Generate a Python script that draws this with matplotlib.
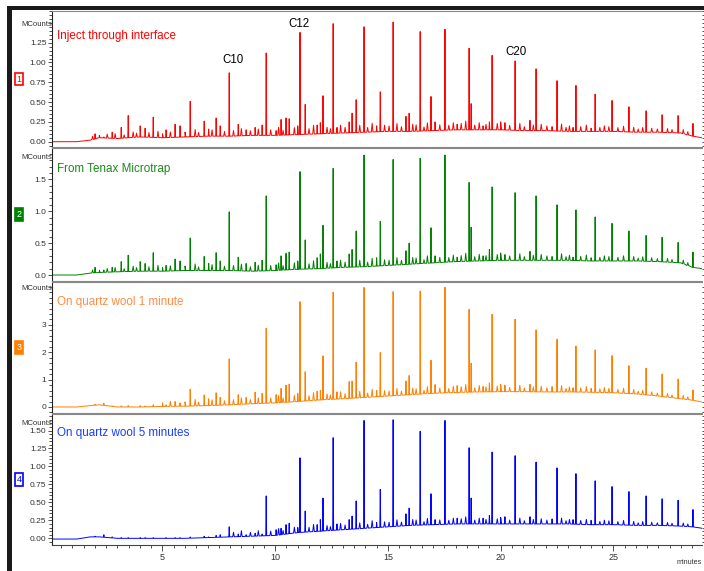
import numpy as np
import matplotlib
matplotlib.use('Agg')
from matplotlib import pyplot as plt
from matplotlib.patches import Rectangle
from matplotlib.ticker import MultipleLocator, FixedLocator, FormatStrFormatter

plt.rcParams['font.family'] = ['Liberation Sans', 'DejaVu Sans']

# retention times (minutes) of the n-alkanes C10 .. C30
alkane_rt = [7.96, 9.60, 11.10, 12.57, 13.94, 15.23, 16.43, 17.53, 18.60, 19.62, 20.64,
             21.57, 22.50, 23.34, 24.19, 24.94, 25.69, 26.45, 27.16, 27.87, 28.53]
# other (minor) peaks
minor_rt = [2.01, 2.40, 2.77, 3.17, 3.48, 4.01, 4.23, 4.59, 5.16, 5.56, 5.78, 6.23,
            6.85, 7.05, 7.38, 7.56, 8.36, 8.71, 9.11, 9.42, 10.04, 10.26, 10.48, 10.62,
            11.00, 11.33, 11.86, 12.00, 12.12, 12.74, 13.28, 13.41, 13.59, 14.50, 14.66, 15.80,
            15.94, 16.91, 17.09, 18.07, 18.69, 19.22, 19.50, 20.19, 21.30, 22.28, 23.21, 24.01]

# apex heights (MCounts)
alk_1 = [0.87, 1.12, 1.38, 1.49, 1.45, 1.51, 1.39, 1.42, 1.18, 1.09, 1.02,
         0.92, 0.77, 0.71, 0.60, 0.52, 0.44, 0.39, 0.34, 0.33, 0.23]
alk_2 = [0.99, 1.24, 1.62, 1.67, 1.88, 1.81, 1.83, 1.88, 1.45, 1.38, 1.29,
         1.24, 1.10, 1.02, 0.91, 0.81, 0.69, 0.62, 0.59, 0.51, 0.36]
alk_3 = [1.76, 2.88, 3.85, 4.20, 4.37, 4.22, 4.24, 4.38, 3.57, 3.39, 3.21,
         2.82, 2.48, 2.23, 2.09, 1.88, 1.51, 1.42, 1.21, 1.02, 0.62]
alk_4 = [0.16, 0.59, 1.12, 1.40, 1.64, 1.65, 1.49, 1.64, 1.26, 1.20, 1.15,
         1.06, 0.98, 0.90, 0.80, 0.72, 0.65, 0.59, 0.55, 0.53, 0.40]

min_1 = [0.10, 0.06, 0.12, 0.18, 0.33, 0.20, 0.17, 0.31, 0.15, 0.22, 0.20, 0.51,
         0.26, 0.16, 0.30, 0.20, 0.22, 0.15, 0.18, 0.21, 0.14, 0.28, 0.30, 0.29,
         0.20, 0.47, 0.21, 0.24, 0.58, 0.18, 0.25, 0.36, 0.53, 0.20, 0.63, 0.32,
         0.36, 0.57, 0.25, 0.22, 0.48, 0.20, 0.25, 0.24, 0.27, 0.19, 0.18, 0.17]
min_2 = [0.12, 0.08, 0.12, 0.21, 0.31, 0.21, 0.18, 0.35, 0.15, 0.25, 0.22, 0.58,
         0.29, 0.18, 0.35, 0.22, 0.28, 0.18, 0.20, 0.23, 0.16, 0.30, 0.34, 0.36,
         0.22, 0.55, 0.27, 0.33, 0.78, 0.22, 0.33, 0.40, 0.69, 0.27, 0.84, 0.38,
         0.50, 0.74, 0.30, 0.28, 0.75, 0.30, 0.40, 0.32, 0.37, 0.29, 0.28, 0.27]
min_3 = [0.10, 0.14, 0.04, 0.04, 0.05, 0.05, 0.04, 0.08, 0.08, 0.20, 0.15, 0.65,
         0.44, 0.30, 0.52, 0.35, 0.45, 0.35, 0.54, 0.50, 0.45, 0.68, 0.80, 0.84,
         0.50, 1.29, 0.58, 0.60, 1.87, 0.55, 0.93, 0.95, 1.64, 0.60, 1.99, 0.95,
         1.15, 1.71, 0.82, 0.78, 1.60, 0.75, 0.88, 0.80, 0.83, 0.75, 0.70, 0.68]
min_4 = [0.03, 0.05, 0.02, 0.01, 0.01, 0.01, 0.01, 0.01, 0.01, 0.01, 0.01, 0.02,
         0.03, 0.02, 0.04, 0.05, 0.06, 0.05, 0.07, 0.06, 0.12, 0.14, 0.19, 0.21,
         0.15, 0.38, 0.19, 0.26, 0.56, 0.20, 0.26, 0.31, 0.52, 0.22, 0.68, 0.34,
         0.42, 0.62, 0.26, 0.28, 0.56, 0.28, 0.32, 0.30, 0.30, 0.27, 0.26, 0.25]

# small baseline bumps ("grass"), height above baseline in top-trace MCounts
grass_rt = [1.9, 2.2, 2.55, 2.9, 3.3, 3.7, 3.85, 4.4, 4.8, 5.0,
            5.35, 6.0, 6.45, 6.6, 7.2, 7.75, 8.15, 8.5, 8.9, 9.25,
            9.8, 10.15, 10.35, 10.85, 11.5, 11.7, 12.3, 12.45, 12.9, 13.1,
            13.75, 14.1, 14.3, 14.85, 15.05, 15.4, 15.6, 16.1, 16.25, 16.6,
            16.75, 17.3, 17.7, 17.9, 18.25, 18.45, 18.85, 19.05, 19.35, 19.85,
            20.0, 20.4, 20.85, 21.05, 21.45, 21.8, 22.05, 22.7, 22.9, 23.05,
            23.55, 23.8, 24.4, 24.6, 24.8, 25.2, 25.45, 25.9, 26.1, 26.3,
            26.7, 26.95, 27.4, 27.6, 28.1, 28.3]
grass_h = [0.04, 0.03, 0.05, 0.06, 0.04, 0.07, 0.05, 0.06, 0.08, 0.05,
           0.07, 0.06, 0.09, 0.05, 0.08, 0.06, 0.07, 0.09, 0.06, 0.08,
           0.07, 0.10, 0.06, 0.09, 0.07, 0.11, 0.08, 0.06, 0.10, 0.07,
           0.09, 0.06, 0.11, 0.08, 0.07, 0.10, 0.06, 0.09, 0.08, 0.05,
           0.10, 0.07, 0.06, 0.09, 0.08, 0.11, 0.06, 0.09, 0.07, 0.08,
           0.10, 0.06, 0.09, 0.05, 0.07, 0.08, 0.06, 0.09, 0.05, 0.07,
           0.06, 0.08, 0.05, 0.07, 0.06, 0.05, 0.07, 0.06, 0.04, 0.06,
           0.05, 0.04, 0.05, 0.04, 0.05, 0.04]
grass_scale = [1.0, 1.15, 2.6, 0.9]
grass_from = [1.8, 1.8, 5.0, 8.0]

# baselines
base_t = [0.1, 1.2, 1.8, 2.2, 3.0, 4.0, 5.0, 6.0, 7.0, 8.0, 9.0, 10.0, 11.0, 12.0, 13.0,
          14.0, 15.0, 16.0, 17.0, 18.0, 19.0, 20.0, 21.0, 22.0, 23.0, 24.0, 25.0, 26.0,
          27.0, 28.0, 28.5, 28.93]
base_1 = [0.0, 0.0, 0.02, 0.05, 0.04, 0.06, 0.05, 0.06, 0.07, 0.07, 0.08, 0.08, 0.09, 0.10,
          0.11, 0.12, 0.13, 0.13, 0.14, 0.15, 0.15, 0.15, 0.14, 0.14, 0.13, 0.13, 0.13, 0.12,
          0.12, 0.11, 0.07, 0.05]
base_2 = [0.0, 0.0, 0.03, 0.04, 0.05, 0.06, 0.06, 0.07, 0.07, 0.07, 0.06, 0.07, 0.09, 0.10,
          0.12, 0.13, 0.15, 0.17, 0.19, 0.21, 0.22, 0.23, 0.23, 0.23, 0.23, 0.22, 0.22, 0.22,
          0.21, 0.19, 0.12, 0.10]
base_3 = [0.0, 0.0, 0.05, 0.08, 0.0, 0.0, 0.02, 0.03, 0.05, 0.08, 0.12, 0.15, 0.20, 0.26,
          0.30, 0.35, 0.40, 0.45, 0.50, 0.53, 0.55, 0.56, 0.56, 0.55, 0.55, 0.54, 0.52, 0.48,
          0.40, 0.30, 0.25, 0.18]
base_4 = [-0.01, -0.01, 0.02, 0.02, 0.0, 0.0, 0.0, 0.0, 0.01, 0.02, 0.03, 0.04, 0.08, 0.10,
          0.12, 0.14, 0.16, 0.18, 0.19, 0.20, 0.20, 0.20, 0.20, 0.20, 0.20, 0.19, 0.19, 0.18,
          0.18, 0.17, 0.16, 0.14]

labels = ['Inject through interface', 'From Tenax Microtrap',
          'On quartz wool 1 minute', 'On quartz wool 5 minutes']
line_colors = ['#ff0000', '#008000', '#ff8000', '#0000ff']
text_colors = ['#ff0000', '#1a8a1a', '#ff8c42', '#1a3cff']


def trace(i, base_v, alk_h, min_h, w=0.02, gw=0.035):
    t = list(base_t)
    v = list(base_v)
    for ti, hi in zip(alkane_rt + minor_rt, list(alk_h) + list(min_h)):
        b = np.interp(ti, base_t, base_v)
        t += [ti - w, ti, ti + w]
        v += [b, hi, b]
    for ti, gi in zip(grass_rt, grass_h):
        if ti < grass_from[i]:
            continue
        b = np.interp(ti, base_t, base_v)
        t += [ti - gw, ti, ti + gw]
        v += [b, b + gi * grass_scale[i], b]
    order = np.argsort(t, kind='stable')
    return np.array(t)[order], np.array(v)[order]


W, H = 704, 571
fig = plt.figure(figsize=(W / 100, H / 100), dpi=100)

# frame bars
fig.add_artist(Rectangle((7 / W, 1 - 10 / H), 1, 4 / H, transform=fig.transFigure,
                         color='#1a1a1a', lw=0))
fig.add_artist(Rectangle((7 / W, 0), 5 / W, 1 - 6 / H, transform=fig.transFigure,
                         color='#1a1a1a', lw=0))

panels = [(11, 147), (148, 281), (282, 413), (414, 545)]
ylims = [(-0.067, 1.65), (-0.094, 1.99), (-0.22, 4.57), (-0.093, 1.73)]
majors = [np.arange(0, 1.26, 0.25), np.arange(0, 1.6, 0.5), [0, 1, 2, 3], np.arange(0, 1.51, 0.25)]
minors = [0.05, 0.1, 0.2, 0.05]
fmts = ['%.2f', '%.1f', '%d', '%.2f']
mc_y = [0.90, 0.93, 0.95, 0.93]
title_y = [0.816, 0.84, 0.85, 0.857]
data = [(base_1, alk_1, min_1), (base_2, alk_2, min_2),
        (base_3, alk_3, min_3), (base_4, alk_4, min_4)]

axes = []
for i, (top, bot) in enumerate(panels):
    ax = fig.add_axes([52 / W, 1 - bot / H, 650 / W, (bot - top) / H])
    axes.append(ax)
    t, v = trace(i, *data[i])
    ax.plot(t, v, color=line_colors[i], lw=0.7)
    ax.set_xlim(0.1, 28.93)
    ax.set_ylim(*ylims[i])
    ax.yaxis.set_major_locator(FixedLocator(majors[i]))
    ax.yaxis.set_minor_locator(MultipleLocator(minors[i]))
    ax.yaxis.set_major_formatter(FormatStrFormatter(fmts[i]))
    ax.tick_params(axis='y', which='both', left=True, right=True, direction='out',
                   labelsize=6, colors='#333333', width=0.6, pad=1)
    ax.tick_params(axis='y', which='major', length=3)
    ax.tick_params(axis='y', which='minor', length=2)
    ax.spines['right'].set_visible(False)
    ax.spines['left'].set_color('#222222')
    ax.spines['top'].set_color('#888888')
    ax.spines['bottom'].set_color('#888888')
    for s in ax.spines.values():
        s.set_linewidth(0.8)
    ax.text(0.0, mc_y[i], 'MCounts', transform=ax.transAxes, ha='right', va='center',
            fontsize=5.6, color='#333333')
    ax.text(0.008, title_y[i], labels[i], transform=ax.transAxes, ha='left', va='center',
            fontsize=8.4, color=text_colors[i])
    # trace number box
    fc = 'white' if i in (0, 3) else line_colors[i]
    tc = line_colors[i] if i in (0, 3) else 'white'
    fig.text(19 / W, 1 - (top + bot) / 2 / H, str(i + 1), ha='center', va='center',
             fontsize=6.5, color=tc,
             bbox=dict(boxstyle='square,pad=0.2', fc=fc, ec=line_colors[i], lw=1.2))
    if i < 3:
        ax.tick_params(axis='x', which='both', bottom=False, labelbottom=False)
    else:
        ax.xaxis.set_major_locator(MultipleLocator(5))
        ax.xaxis.set_minor_locator(MultipleLocator(0.5))
        ax.tick_params(axis='x', which='both', direction='out', labelsize=6.5,
                       colors='#333333', width=0.6, pad=2)
        ax.tick_params(axis='x', which='major', length=4)
        ax.tick_params(axis='x', which='minor', length=2.5)
        ax.spines['bottom'].set_color('#444444')

# peak names on the top trace
axes[0].text(8.13, 1.03, 'C10', ha='center', va='center', fontsize=8.3)
axes[0].text(11.06, 1.49, 'C12', ha='center', va='center', fontsize=8.3)
axes[0].text(20.68, 1.13, 'C20', ha='center', va='center', fontsize=8.3)

fig.text(689 / W, 1 - 563 / H, 'minutes', ha='center', va='center', fontsize=5.2,
         color='#333333')

fig.savefig('out.png', dpi=100)
